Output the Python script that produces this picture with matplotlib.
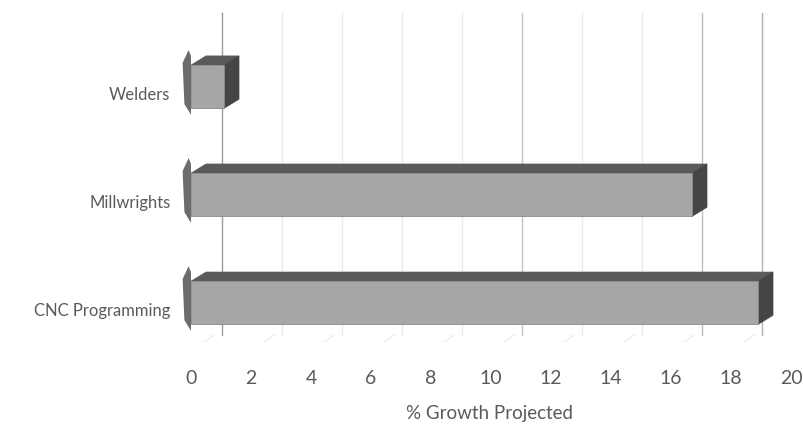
import matplotlib
matplotlib.use("Agg")

import matplotlib.pyplot as plt
from matplotlib.patches import Polygon

# data (bottom to top)
categories = ["CNC Programming", "Millwrights", "Welders"]
growth = [18.9, 16.7, 1.1]
x_ticks = [0, 2, 4, 6, 8, 10, 12, 14, 16, 18, 20]
x_label = "% Growth Projected"

W, H = 804, 433
FRONT = "#a6a6a6"
TOP = "#5a5a5a"
SIDE = "#454545"
TEXT = "#5a5a5a"

# fake 3D depth, in data units
DX, DY = 0.5, 0.085     # bar depth (right/up)
WALL = 1.03             # back wall offset
BAR_H = 0.40

fig = plt.figure(figsize=(W / 100, H / 100), dpi=100)
ax = fig.add_axes([176 / W, 1 - 345 / H, 627 / W, 335 / H])
ax.set_xlim(-0.5, 20.4)
ax.set_ylim(-0.39, 2.71)

# back wall gridlines (the scan keeps some darker than others)
strong = {10: "#c4c4c4", 16: "#bdbdbd", 18: "#b0b0b0"}
for t in x_ticks[:-1]:
    ax.plot([t + WALL, t + WALL], [-0.3, 2.68], color=strong.get(t, "#ebebeb"),
            lw=1.0, zorder=1)
ax.plot([WALL, WALL], [-0.3, 2.68], color="#a0a0a0", lw=1.0, zorder=1)

# floor marks
for t in x_ticks[:-1]:
    ax.plot([t + 0.45, t + 0.75], [-0.36, -0.3], color="#e6e6e6",
            lw=0.8, zorder=1)

ys = list(range(len(categories)))
bars = ax.barh(ys, growth, height=BAR_H, color=FRONT, edgecolor="#8a8a8a",
               lw=0.6, zorder=4)

for bar in bars:
    x0 = bar.get_x()
    x1 = x0 + bar.get_width()
    y0 = bar.get_y()
    y1 = y0 + bar.get_height()
    top = Polygon([(x0, y1), (x1, y1), (x1 + DX, y1 + DY), (x0 + DX, y1 + DY)],
                  closed=True, fc=TOP, ec=TOP, lw=0.5, zorder=3)
    side = Polygon([(x1, y0), (x1, y1), (x1 + DX, y1 + DY), (x1 + DX, y0 + DY)],
                   closed=True, fc=SIDE, ec=SIDE, lw=0.5, zorder=3)
    # left end wedge seen in perspective
    left = Polygon([(x0, y0 - 0.06), (x0, y1 + DY), (x0 - 0.08, y1 + 0.14),
                    (x0 - 0.28, y1 + 0.02), (x0 - 0.22, y0 + 0.04)],
                   closed=True, fc="#5c5c5c", ec="none", alpha=0.9, zorder=2)
    ax.add_patch(top)
    ax.add_patch(side)
    ax.add_patch(left)

font = "Lato"
ax.set_yticks([y - 0.06 for y in ys])
ax.set_yticklabels(categories, fontsize=12, color=TEXT, family=font)
ax.set_xticks(x_ticks)
ax.set_xticklabels([str(t) for t in x_ticks], fontsize=14, color=TEXT,
                   family=font)
ax.tick_params(axis="both", length=0)
ax.tick_params(axis="x", pad=18)
ax.tick_params(axis="y", pad=4)
ax.set_xlabel(x_label, fontsize=13.5, color=TEXT, family=font, labelpad=13)

for s in ax.spines.values():
    s.set_visible(False)

fig.savefig("out.png", dpi=100)
